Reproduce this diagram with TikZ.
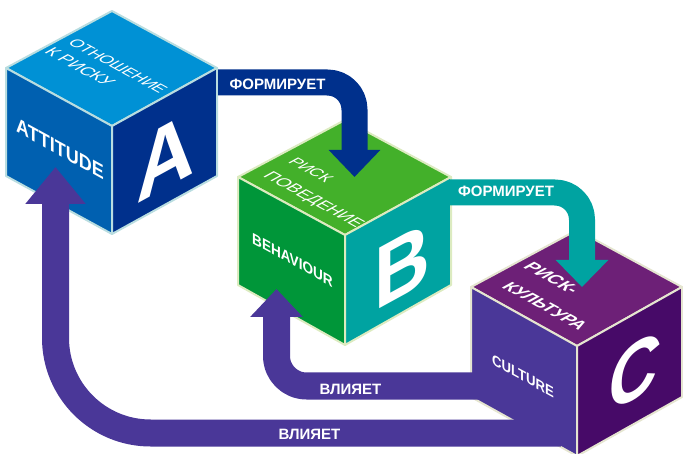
\documentclass[tikz,border=0pt]{standalone}
\usepackage{fontspec}
\setmainfont{Liberation Sans}
\usetikzlibrary{arrows.meta}
\definecolor{atop}{HTML}{0091D5}
\definecolor{aleft}{HTML}{0060B0}
\definecolor{aright}{HTML}{00308C}
\definecolor{aedge}{HTML}{B9DDE0}
\definecolor{btop}{HTML}{43B02A}
\definecolor{bleft}{HTML}{009639}
\definecolor{bright}{HTML}{00A3A1}
\definecolor{bedge}{HTML}{DCEBC0}
\definecolor{ctop}{HTML}{6D2077}
\definecolor{cleft}{HTML}{4A3798}
\definecolor{cright}{HTML}{470A68}
\definecolor{cedge}{HTML}{E5E5D0}
\tikzset{
  lface/.style={transform shape,cm={.877,-.48,0,1,(0,0)},text=white,inner sep=0pt},
  rface/.style={transform shape,cm={.877,.48,0,1,(0,0)},text=white,inner sep=0pt},
  tface/.style={transform shape,cm={.877,-.48,.877,.48,(0,0)},text=white,inner sep=0pt},
  band/.style={line width=#1,line cap=butt},
  bandtext/.style={text=white,font=\fontsize{15}{15}\selectfont\bfseries,inner sep=0pt}
}
\begin{document}
\begin{tikzpicture}[x=1pt,y=-1pt,line join=round]
\useasboundingbox (0,0) rectangle (683,454);
\filldraw[fill=atop, draw=aedge, line width=2pt] (112,11) -- (217,68) -- (112,126) -- (6,68) -- cycle;
\filldraw[fill=aleft, draw=aedge, line width=2pt] (6,68) -- (112,126) -- (112,234) -- (6,176) -- cycle;
\filldraw[fill=aright, draw=aedge, line width=2pt] (217,68) -- (112,126) -- (112,234) -- (217,176) -- cycle;
\filldraw[fill=btop, draw=bedge, line width=2pt] (345,120) -- (451,177) -- (345,235) -- (238,177) -- cycle;
\filldraw[fill=bleft, draw=bedge, line width=2pt] (238,177) -- (345,235) -- (345,345) -- (238,285) -- cycle;
\filldraw[fill=bright, draw=bedge, line width=2pt] (451,177) -- (345,235) -- (345,345) -- (451,285) -- cycle;
\filldraw[fill=ctop, draw=cedge, line width=2pt] (577,230) -- (682,287) -- (577,346) -- (471,287) -- cycle;
\filldraw[fill=cleft, draw=cedge, line width=2pt] (471,287) -- (577,346) -- (577,456) -- (471,397) -- cycle;
\filldraw[fill=cright, draw=cedge, line width=2pt] (682,287) -- (577,346) -- (577,456) -- (682,397) -- cycle;
\node[shift={(118,66)}, tface, font=\fontsize{16}{16}\selectfont] (atopa) {ОТНОШЕНИЕ};
\node[shift={(80,67)}, tface, font=\fontsize{17}{17}\selectfont] (atopb) {К РИСКУ};
\node[shift={(60,149)}, lface, font=\fontsize{20.5}{20.5}\selectfont\bfseries] (attitude) {ATTITUDE};
\node[shift={(166,157)}, rface, font=\fontsize{92}{92}\selectfont\bfseries] (lettera) {A};
\node[shift={(311,170)}, tface, font=\fontsize{16}{16}\selectfont] (btopa) {РИСК};
\node[shift={(313,200)}, tface, font=\fontsize{17}{17}\selectfont] (btopb) {ПОВЕДЕНИЕ};
\node[shift={(292.5,260)}, lface, font=\fontsize{15.5}{15.5}\selectfont\bfseries] (behaviour) {BEHAVIOUR};
\node[shift={(402.5,266)}, rface, font=\fontsize{88}{88}\selectfont\bfseries] (letterb) {B};
\node[shift={(552,278)}, tface, font=\fontsize{18}{18}\selectfont\bfseries] (ctopa) {РИСК-};
\node[shift={(545,306)}, tface, font=\fontsize{17.5}{17.5}\selectfont\bfseries] (ctopb) {КУЛЬТУРА};
\node[shift={(523,376)}, lface, font=\fontsize{15}{15}\selectfont\bfseries] (culture) {CULTURE};
\node[shift={(634,372)}, rface, font=\fontsize{80}{80}\selectfont\bfseries\itshape] (letterc) {C};
\coordinate (astart) at (218,82.5);
\coordinate (aturn) at (354.5,82.5);
\coordinate (btip) at (354.5,177);
\coordinate (bstart) at (450,192.5);
\coordinate (bturn) at (582,192.5);
\coordinate (ctip) at (582,287);
\coordinate (cstart) at (480,386);
\coordinate (cturn) at (276.5,386);
\coordinate (bbase) at (276.5,289);
\coordinate (dstart) at (561,433);
\coordinate (dturn) at (55.5,433);
\coordinate (abase) at (55.5,167);
\draw[aright, band=26pt, rounded corners=27pt, -{Triangle[length=27pt,width=50pt]}] (astart) -- (aturn) -- (btip);
\draw[bright, band=26pt, rounded corners=27pt, -{Triangle[length=27pt,width=51pt]}] (bstart) -- (bturn) -- (ctip);
\draw[cleft, band=27pt, rounded corners=30pt, -{Triangle[length=28pt,width=51pt]}] (cstart) -- (cturn) -- (bbase);
\draw[cleft, band=27pt, rounded corners=95pt, -{Triangle[length=37pt,width=58pt]}] (dstart) -- (dturn) -- (abase);
\node[bandtext] (forma) at (277.5,84) {ФОРМИРУЕТ};
\node[bandtext] (formb) at (506,191) {ФОРМИРУЕТ};
\node[bandtext] (vliyaa) at (350.5,389) {ВЛИЯЕТ};
\node[bandtext] (vliyab) at (309.5,434) {ВЛИЯЕТ};
\end{tikzpicture}
\end{document}
